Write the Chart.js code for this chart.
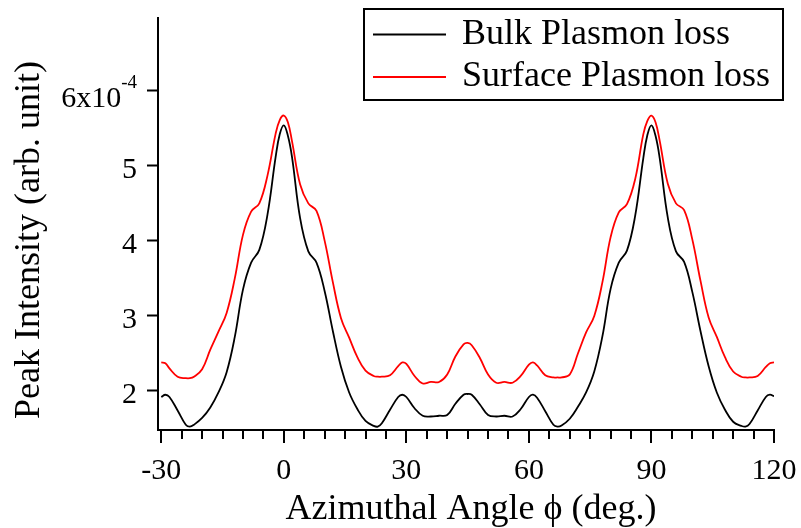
<!DOCTYPE html>
<html>
<head>
<meta charset="utf-8">
<title>Peak Intensity vs Azimuthal Angle</title>
<script src="https://cdn.jsdelivr.net/npm/chart.js@4"></script>
<style>
    html, body { margin: 0; padding: 0; background: #fff; }
    canvas { display: block; }
</style>
</head>
<body>
<canvas id="plasmonChart" width="801" height="528"></canvas>
<script>
// azimuthal angle (deg.)
const angles = [
    -30, -29, -28, -26, -24, -23, -22, -20, -18, -16, -14, -12, -10, -8, -6, -4, -2, -1,
    0, 1, 2, 4, 6, 8, 10, 12, 14, 16, 18, 20, 22, 23, 24, 26, 28, 29,
    30, 32, 34, 36, 38, 40, 42, 44, 45, 46, 48, 50, 52, 54, 56, 58,
    60, 61, 62, 64, 66, 67, 68, 70, 72, 74, 76, 78, 80, 82, 84, 86, 88, 89,
    90, 91, 92, 94, 96, 98, 100, 102, 104, 106, 108, 110, 112, 113, 114, 116, 118, 119, 120
];

// peak intensity, units of 1e-4
const bulkLoss = [
    1.92, 1.95, 1.92, 1.74, 1.55, 1.525, 1.55, 1.64, 1.78, 1.98, 2.25, 2.72, 3.35, 3.71, 3.88, 4.35, 5.12, 5.42,
    5.54, 5.40, 5.12, 4.30, 3.86, 3.71, 3.33, 2.80, 2.32, 1.98, 1.76, 1.60, 1.535, 1.525, 1.57, 1.75, 1.92, 1.95,
    1.92, 1.77, 1.67, 1.66, 1.67, 1.68, 1.83, 1.95, 1.96, 1.95, 1.82, 1.68, 1.66, 1.67, 1.66, 1.76,
    1.92, 1.95, 1.91, 1.73, 1.55, 1.525, 1.54, 1.63, 1.79, 1.98, 2.26, 2.73, 3.36, 3.71, 3.87, 4.33, 5.10, 5.41,
    5.54, 5.40, 5.11, 4.31, 3.86, 3.72, 3.32, 2.80, 2.33, 1.98, 1.75, 1.59, 1.535, 1.525, 1.56, 1.74, 1.92, 1.95, 1.93
];

const surfaceLoss = [
    2.38, 2.37, 2.30, 2.19, 2.17, 2.17, 2.19, 2.29, 2.55, 2.79, 3.04, 3.50, 4.08, 4.39, 4.50, 4.87, 5.43, 5.61,
    5.67, 5.58, 5.33, 4.75, 4.50, 4.40, 4.00, 3.45, 2.97, 2.71, 2.45, 2.27, 2.20, 2.19, 2.19, 2.21, 2.33, 2.38,
    2.36, 2.20, 2.10, 2.12, 2.12, 2.22, 2.46, 2.62, 2.64, 2.61, 2.44, 2.22, 2.11, 2.12, 2.11, 2.20,
    2.35, 2.38, 2.34, 2.21, 2.18, 2.18, 2.18, 2.22, 2.50, 2.78, 3.00, 3.45, 4.05, 4.38, 4.49, 4.82, 5.42, 5.60,
    5.67, 5.58, 5.34, 4.76, 4.50, 4.41, 4.02, 3.47, 2.98, 2.72, 2.45, 2.26, 2.19, 2.18, 2.18, 2.20, 2.32, 2.37, 2.38
];

const xTickValues = [-30, -25, -20, -15, -10, -5, 0, 5, 10, 15, 20, 25, 30, 35, 40, 45, 50, 55,
    60, 65, 70, 75, 80, 85, 90, 95, 100, 105, 110, 115, 120];
const yTickValues = [2, 3, 4, 5, 6];
const yTickLabels = ['2', '3', '4', '5', '6x10'];
const yExponent = '-4';

const serif = "'Liberation Serif', 'Times New Roman', serif";

function toPoints(xs, ys) {
    return xs.map((x, i) => ({ x: x, y: ys[i] }));
}

// tick marks, y labels with exponent, axis titles and the boxed legend
const decorations = {
    id: 'decorations',
    afterDraw(chart) {
        const { ctx, chartArea } = chart;
        const xScale = chart.scales.x;
        const yScale = chart.scales.y;
        ctx.save();
        ctx.strokeStyle = '#000';
        ctx.lineWidth = 2;

        // x ticks: long every 30 deg, short every 5 deg
        xScale.ticks.forEach(t => {
            const px = Math.round(xScale.getPixelForValue(t.value));
            const len = t.value % 30 === 0 ? 13 : 9;
            ctx.beginPath();
            ctx.moveTo(px, chartArea.bottom);
            ctx.lineTo(px, chartArea.bottom + len);
            ctx.stroke();
        });

        // y labels
        ctx.fillStyle = '#000';
        ctx.textBaseline = 'middle';
        ctx.textAlign = 'right';
        const labelRight = chartArea.left - 21;
        yTickValues.forEach((v, i) => {
            const py = yScale.getPixelForValue(v) + 4;
            if (i === yTickValues.length - 1) {
                ctx.font = '19px ' + serif;
                const expWidth = ctx.measureText(yExponent).width;
                ctx.fillText(yExponent, labelRight, py - 12);
                ctx.font = '30px ' + serif;
                ctx.fillText(yTickLabels[i], labelRight - expWidth, py + 4);
            } else {
                ctx.font = '30px ' + serif;
                ctx.fillText(yTickLabels[i], labelRight, py);
            }
        });

        // axis titles
        ctx.font = '36px ' + serif;
        ctx.textAlign = 'center';
        ctx.textBaseline = 'alphabetic';
        ctx.fillText('Azimuthal Angle \u03D5 (deg.)', 471, 519);
        ctx.save();
        ctx.translate(30, 240);
        ctx.rotate(-Math.PI / 2);
        ctx.textBaseline = 'middle';
        ctx.fillText('Peak Intensity (arb. unit)', 0, 0);
        ctx.restore();

        // legend
        ctx.lineWidth = 2;
        ctx.strokeRect(364, 9, 419, 91);
        ctx.textAlign = 'left';
        ctx.textBaseline = 'middle';
        chart.data.datasets.forEach((ds, i) => {
            const ly = 34.5 + i * 42.5;
            ctx.strokeStyle = ds.borderColor;
            ctx.lineWidth = 1.8;
            ctx.beginPath();
            ctx.moveTo(373, ly);
            ctx.lineTo(446, ly);
            ctx.stroke();
            ctx.fillText(ds.label, 462, ly);
        });
        ctx.restore();
    }
};

const config = {
    type: 'line',
    data: {
        datasets: [
            {
                label: 'Bulk Plasmon loss',
                data: toPoints(angles, bulkLoss),
                borderColor: '#000000',
                borderWidth: 1.8,
                pointRadius: 0,
                tension: 0.4,
            },
            {
                label: 'Surface Plasmon loss',
                data: toPoints(angles, surfaceLoss),
                borderColor: '#ff0000',
                borderWidth: 1.8,
                pointRadius: 0,
                tension: 0.4,
            }
        ]
    },
    options: {
        responsive: false,
        animation: false,
        layout: {
            padding: { top: 18, right: 27, left: 0, bottom: 0 }
        },
        scales: {
            x: {
                type: 'linear',
                min: -30.8,
                max: 120,
                afterBuildTicks: scale => {
                    scale.ticks = xTickValues.map(v => ({ value: v }));
                },
                afterFit: scale => {
                    scale.height = 98;
                    scale.paddingLeft = 0;
                    scale.paddingRight = 0;
                },
                ticks: {
                    autoSkip: false,
                    maxRotation: 0,
                    padding: 10,
                    color: '#000',
                    font: { family: serif, size: 30 },
                    callback: v => (v % 30 === 0 ? String(v) : '')
                },
                grid: {
                    drawOnChartArea: false,
                    tickLength: 13,
                    tickColor: 'rgba(0,0,0,0)'
                },
                border: { display: true, color: '#000', width: 2 }
            },
            y: {
                min: 1.48,
                max: 6.97,
                afterBuildTicks: scale => {
                    scale.ticks = yTickValues.map(v => ({ value: v }));
                },
                afterFit: scale => { scale.width = 158; },
                ticks: { display: false },
                grid: {
                    drawOnChartArea: false,
                    tickLength: 11,
                    tickWidth: 2,
                    tickColor: '#000'
                },
                border: { display: true, color: '#000', width: 2 }
            }
        },
        plugins: {
            legend: { display: false },
            tooltip: { enabled: false }
        }
    },
    plugins: [decorations]
};

const ctx = document.getElementById('plasmonChart').getContext('2d');
const chart = new Chart(ctx, config);
</script>
</body>
</html>
